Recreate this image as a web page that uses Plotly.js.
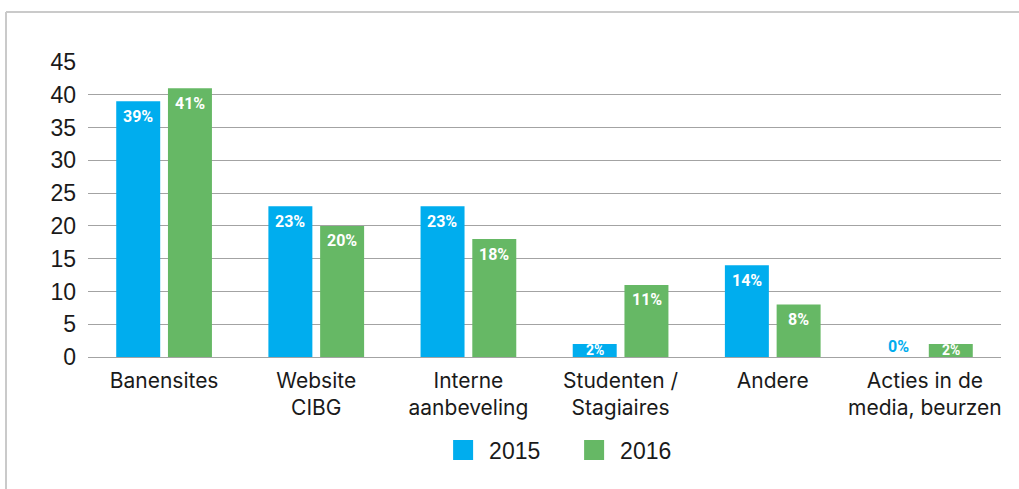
<!DOCTYPE html>
<html>
<head>
<meta charset="utf-8">
<script src="https://cdn.plot.ly/plotly-3.0.1.min.js"></script>
<style>
html,body{margin:0;padding:0;background:#fff;}
#chart{width:1019px;height:489px;}
</style>
</head>
<body>
<div id="chart"></div>
<script>
var categories = ["Banensites", "Website<br>CIBG", "Interne<br>aanbeveling", "Studenten /<br>Stagiaires", "Andere", "Acties in de<br>media, beurzen"];
var values2015 = [39, 23, 23, 2, 14, 0];
var values2016 = [41, 20, 18, 11, 8, 2];
var seriesNames = ["2015", "2016"];
var yTicks = [0, 5, 10, 15, 20, 25, 30, 35, 40, 45];

var colors = ["#00adee", "#66b865"];
var series = [values2015, values2016];

var traces = series.map(function (vals, i) {
  return {
    type: "bar",
    x: categories,
    y: vals,
    name: seriesNames[i],
    marker: {color: colors[i]},
    showlegend: false,
    hoverinfo: "skip"
  };
});
// legend swatches
series.forEach(function (vals, i) {
  traces.push({
    type: "scatter", mode: "markers", x: [null], y: [null],
    name: seriesNames[i],
    marker: {symbol: "square", size: 16, color: colors[i]},
    showlegend: true
  });
});

var pxPerUnit = 295 / 45;
var annotations = [];
series.forEach(function (vals, i) {
  vals.forEach(function (v, j) {
    var half = v * pxPerUnit / 2;
    var small = v > 0 && half < 10;
    annotations.push({
      x: categories[j], y: v, xref: "x", yref: "y",
      xshift: i === 0 ? -26 : 26,
      yshift: v > 0 ? -Math.min(15, half) : 11,
      yanchor: "middle",
      showarrow: false,
      text: v + "%",
      font: {family: "Roboto, Liberation Sans, sans-serif", size: small ? 14 : 16, color: v > 0 ? "#ffffff" : colors[i], weight: "bold"}
    });
  });
});

var layout = {
  width: 1019, height: 489,
  margin: {l: 88, r: 18, t: 62, b: 132},
  paper_bgcolor: "#ffffff", plot_bgcolor: "#ffffff",
  font: {family: "Liberation Sans, Arial, sans-serif", size: 23, color: "#1a1a1a"},
  bargap: 0.32, bargroupgap: 0.15, barmode: "group",
  xaxis: {
    type: "category",
    showgrid: false, zeroline: false, showline: false,
    ticks: "", ticklabelstandoff: 9,
    tickfont: {family: "Inter, Liberation Sans, sans-serif", size: 21, color: "#1a1a1a"}
  },
  yaxis: {
    range: [0, 45], tickvals: yTicks, ticktext: yTicks.map(String),
    showgrid: true, gridcolor: "#a3a3a3", gridwidth: 1,
    zeroline: true, zerolinecolor: "#a3a3a3", zerolinewidth: 1,
    showline: false, ticks: "", ticklabelstandoff: 11,
    tickfont: {size: 23, color: "#1a1a1a"}
  },
  legend: {
    orientation: "h", x: 0.539, xanchor: "center", y: -0.315, yanchor: "middle",
    font: {size: 23, color: "#1a1a1a"},
    entrywidth: 86,
    itemclick: false
  },
  annotations: annotations,
  shapes: [
    {type: "line", xref: "paper", yref: "paper", x0: -0.0898, x1: 1.2, y0: 1.1695, y1: 1.1695, line: {color: "#cacaca", width: 2}},
    {type: "line", xref: "paper", yref: "paper", x0: -0.0898, x1: -0.0898, y0: 1.1695, y1: -0.7, line: {color: "#cacaca", width: 2}}
  ],
  showlegend: true
};

Plotly.newPlot("chart", traces, layout, {displayModeBar: false, staticPlot: true}).then(function (gd) {
  // enlarge legend swatches to match the 20px squares of the reference
  gd.querySelectorAll(".legendpoints path.scatterpts").forEach(function (p) {
    var t = p.getAttribute("transform") || "";
    p.setAttribute("transform", "translate(-6,0) " + t + " scale(1.25)");
  });
});
</script>
</body>
</html>
